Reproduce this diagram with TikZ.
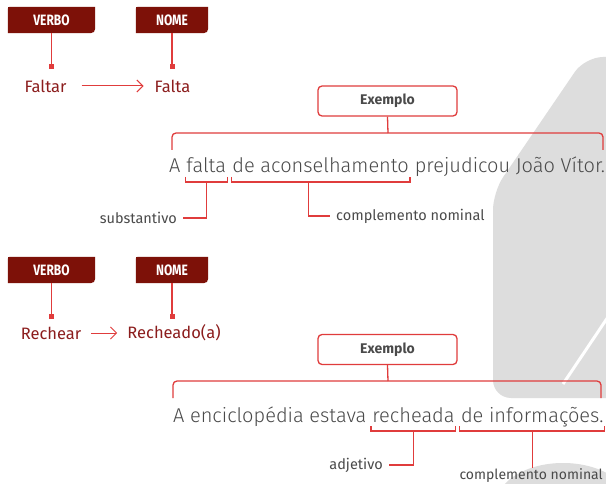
\documentclass[tikz,border=0pt]{standalone}
\usepackage{fontspec}
\setmainfont{Fira Sans}
\newfontfamily\lightf{Fira Sans Light}
\newfontfamily\tabf[FakeStretch=0.8]{Fira Sans}
\usetikzlibrary{arrows.meta,calc,backgrounds}
\definecolor{lred}{HTML}{E03C3C}
\definecolor{tabred}{HTML}{7D1108}
\definecolor{dred}{HTML}{8C1D1D}
\definecolor{tgrey}{HTML}{4A4A4A}
\definecolor{bggrey}{HTML}{DDDDDD}
\tikzset{
 redln/.style={draw=lred, line width=1.3pt},
 arr/.style={draw=lred, line width=1pt, -{Straight Barb[length=6pt,width=12pt]}},
 tab/.style={font=\tabf\bfseries\fontsize{15}{15}\selectfont, text=white, minimum height=26pt, inner sep=0pt},
 sqr/.style={fill=lred, minimum size=5pt, inner sep=0pt},
 word/.style={font=\fontsize{16.5}{16.5}\selectfont, text=dred, inner sep=0pt},
 exbox/.style={draw=lred, line width=1.3pt, rounded corners=4pt, minimum width=139pt, minimum height=30pt, inner sep=0pt, font=\bfseries\fontsize{14}{14}\selectfont, text=tgrey},
 sent/.style={font=\lightf\fontsize{20}{20}\selectfont, text=tgrey, inner sep=0pt, anchor=base west},
 lbl/.style={font=\fontsize{14.5}{14.5}\selectfont, text=tgrey, inner xsep=6pt, inner ysep=0pt},
}
\newcommand\tabshape[1]{\fill[tabred] (#1.south west) -- ($(#1.north west)+(0,3)$) .. controls (#1.north west) .. ($(#1.north west)+(3,0)$) -- (#1.north east) -- ($(#1.south east)+(0,-10)$) .. controls (#1.south east) .. ($(#1.south east)+(-10,0)$) -- cycle;}
\begin{document}
\begin{tikzpicture}[x=1pt,y=-1pt]
\useasboundingbox (0,0) rectangle (606,484);
\begin{pgfonlayer}{background}
\fill[white] (0,0) rectangle (606,484);
\fill[bggrey, rounded corners=18pt] (630,57) -- (585,57) -- (493,192) -- (493,398) -- (630,398) -- cycle;
\draw[white, line width=3pt] (612,311) -- (563,384);
\fill[bggrey] (563,503) ellipse [x radius=66, y radius=40];
\end{pgfonlayer}

% ---------- first block ----------
\node[tab, minimum width=87pt] (v1) at (51.5,20) {VERBO};
\node[tab, minimum width=72pt] (n1) at (172,20) {NOME};
\begin{pgfonlayer}{background}\tabshape{v1}\tabshape{n1}\end{pgfonlayer}
\node[sqr] (q1) at (51.5,67) {};
\node[sqr] (q2) at (172,67) {};
\draw[redln] (v1.south) -- (q1);
\draw[redln] (n1.south) -- (q2);
\node[word] (w1) at (45.5,86) {Faltar};
\node[word] (w2) at (172.5,86) {Falta};
\draw[arr, shorten <=15pt, shorten >=11pt] (w1) -- (w2);

\node[exbox] (ex1) at (387.5,101) {Exemplo};
\coordinate (b1) at (388,133);
\draw[redln] (ex1.south) -- (b1);
\draw[redln, rounded corners=4pt] (172,150) -- (172,133) -- (603,133) -- (603,150);

\node[sent] (a1) at (169,173) {A\ \kern0pt};
\node[sent] (a2) at (a1.base east) {falta};
\node[sent] (a3) at (a2.base east) {\ \kern0pt};
\node[sent] (a4) at (a3.base east) {de aconselhamento};
\node[sent] (a5) at (a4.base east) {\ prejudicou João Vítor.};

\draw[redln] ($(a2.base west)+(-1,4)$) -- ($(a2.base west)+(-1,9)$) -- ($(a2.base east)+(1,9)$) -- ($(a2.base east)+(1,4)$);
\draw[redln] ($(a4.base west)+(-1,4)$) -- ($(a4.base west)+(-1,9)$) -- ($(a4.base east)+(1,9)$) -- ($(a4.base east)+(1,4)$);
\coordinate (m1) at ($(a2.base west)!0.5!(a2.base east)+(0,9)$);
\coordinate (m2) at ($(a4.base west)!0.43!(a4.base east)+(0,9)$);
\node[lbl, anchor=east] (l1) at (183,218) {substantivo};
\node[lbl, anchor=west] (l2) at (330,216) {complemento nominal};
\draw[redln] (m1) |- (l1.east);
\draw[redln] (m2) |- (l2.west);

% ---------- second block ----------
\node[tab, minimum width=87pt] (v2) at (51.5,270) {VERBO};
\node[tab, minimum width=72pt] (n2) at (172,270) {NOME};
\begin{pgfonlayer}{background}\tabshape{v2}\tabshape{n2}\end{pgfonlayer}
\node[sqr] (q3) at (51.5,317) {};
\node[sqr] (q4) at (172,317) {};
\draw[redln] (v2.south) -- (q3);
\draw[redln] (n2.south) -- (q4);
\node[word] (w3) at (51,333) {Rechear};
\node[word] (w4) at (174,333) {Recheado(a)};
\draw[arr, shorten <=10pt, shorten >=10pt] (w3) -- (w4);

\node[exbox] (ex2) at (387.5,349.5) {Exemplo};
\coordinate (b2) at (388,381);
\draw[redln] (ex2.south) -- (b2);
\draw[redln, rounded corners=4pt] (173,398) -- (173,381) -- (601,381) -- (601,398);

\node[sent] (c1) at (173,422) {A enciclopédia estava\ \kern0pt};
\node[sent] (c2) at (c1.base east) {recheada};
\node[sent] (c3) at (c2.base east) {\ \kern0pt};
\node[sent] (c4) at (c3.base east) {de informações.};

\draw[redln] ($(c2.base west)+(-1,4)$) -- ($(c2.base west)+(-1,9)$) -- ($(c2.base east)+(1,9)$) -- ($(c2.base east)+(1,4)$);
\draw[redln] ($(c4.base west)+(-1,4)$) -- ($(c4.base west)+(-1,9)$) -- ($(c4.base east)+(1,9)$) -- ($(c4.base east)+(1,4)$);
\coordinate (m3) at ($(c2.base west)!0.5!(c2.base east)+(0,9)$);
\coordinate (m4) at ($(c4.base west)!0.5!(c4.base east)+(0,9)$);
\node[lbl, anchor=east] (l3) at (389,465) {adjetivo};
\node[lbl, anchor=north east, inner xsep=0pt, font=\fontsize{14}{14}\selectfont] (l4) at (603,468) {complemento nominal};
\draw[redln] (m3) |- (l3.east);
\draw[redln] (m4) -- (m4 |- l4.north);
\end{tikzpicture}
\end{document}
